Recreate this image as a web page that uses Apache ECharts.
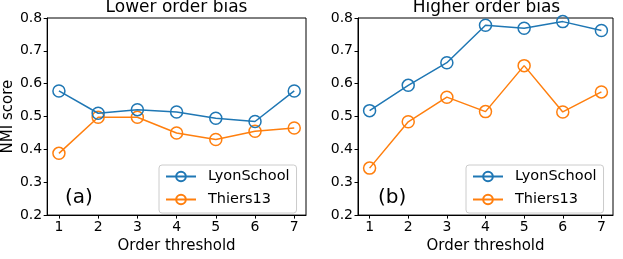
<!DOCTYPE html>
<html>
<head>
<meta charset="utf-8">
<script src="https://cdn.jsdelivr.net/npm/echarts@6/dist/echarts.min.js"></script>
<style>
html,body{margin:0;padding:0;background:#fff;}
#c{width:623px;height:259px;}
</style>
</head>
<body>
<div id="c"></div>
<script>
const thresholds = [1, 2, 3, 4, 5, 6, 7];
const yTicks = [0.2, 0.3, 0.4, 0.5, 0.6, 0.7, 0.8];
const panelTitles = ['Lower order bias', 'Higher order bias'];
const panelTags = ['(a)', '(b)'];
const seriesNames = ['LyonSchool', 'Thiers13'];
const lowerLyon = [0.578, 0.510, 0.521, 0.514, 0.495, 0.485, 0.578];
const lowerThiers = [0.388, 0.498, 0.498, 0.450, 0.430, 0.455, 0.465];
const higherLyon = [0.518, 0.595, 0.664, 0.778, 0.769, 0.789, 0.762];
const higherThiers = [0.343, 0.484, 0.559, 0.515, 0.655, 0.514, 0.575];

const BLUE = '#1f77b4', ORANGE = '#ff7f0e';
const FONT = 'DejaVu Sans';
const grids = [
  {left: 45, top: 18, width: 261, height: 203},
  {left: 358, top: 18, width: 255, height: 203}
];
const panelData = [[lowerLyon, lowerThiers], [higherLyon, higherThiers]];
const colors = [BLUE, ORANGE];

function pairs(vals){ return thresholds.map((t, i) => [t, vals[i]]); }

const option = {
  animation: false,
  backgroundColor: '#fff',
  textStyle: {fontFamily: FONT},
  title: panelTitles.map((t, i) => ({
    text: t,
    left: grids[i].left + grids[i].width / 2 + 1,
    textAlign: 'center',
    top: -1,
    padding: 0,
    textStyle: {fontFamily: FONT, fontSize: 17, fontWeight: 'normal', color: '#000'}
  })),
  grid: grids.map(g => Object.assign({show: true, borderColor: '#000', borderWidth: 1, backgroundColor: 'transparent'}, g)),
  xAxis: grids.map((g, i) => ({
    type: 'value', gridIndex: i, min: 0.7, max: 7.3,
    name: 'Order threshold', nameLocation: 'middle', nameGap: 20,
    nameTextStyle: {fontFamily: FONT, fontSize: 15, color: '#000'},
    axisLine: {show: true, lineStyle: {color: '#000', width: 1}},
    axisTick: {show: true, length: 3.5, lineStyle: {color: '#000'}, customValues: thresholds},
    axisLabel: {fontFamily: FONT, fontSize: 14, color: '#000', margin: 5, customValues: thresholds},
    splitLine: {show: false}
  })),
  yAxis: grids.map((g, i) => ({
    type: 'value', gridIndex: i, min: yTicks[0], max: yTicks[yTicks.length - 1], interval: 0.1,
    name: i === 0 ? 'NMI score' : '', nameLocation: 'middle', nameGap: 18,
    nameTextStyle: {fontFamily: FONT, fontSize: 15, color: '#000'},
    axisLine: {show: true, lineStyle: {color: '#000', width: 1}},
    axisTick: {show: true, length: 3.5, lineStyle: {color: '#000'}},
    axisLabel: {fontFamily: FONT, fontSize: 14, color: '#000', margin: 5, formatter: v => v.toFixed(1)},
    splitLine: {show: false}
  })),
  legend: grids.map((g, i) => ({
    orient: 'vertical',
    left: g.left + g.width - 147,
    top: 165,
    data: seriesNames,
    backgroundColor: '#fff',
    borderColor: '#ccc', borderWidth: 1, borderRadius: 3,
    padding: [3, 7, 5, 6],
    itemWidth: 30, itemHeight: 12, itemGap: 6,
    textStyle: {fontFamily: FONT, fontSize: 14.5, color: '#000', lineHeight: 17, padding: [0, 0, 0, 7]},
    selectedMode: false
  })),
  graphic: panelTags.map((t, i) => ({
    type: 'text',
    left: grids[i].left + 20,
    top: 188,
    style: {text: t, font: '20px "DejaVu Sans"', fill: '#000'}
  })),
  series: []
};

panelData.forEach((pd, gi) => {
  pd.forEach((vals, si) => {
    option.series.push({
      type: 'line', name: seriesNames[si], xAxisIndex: gi, yAxisIndex: gi,
      data: pairs(vals),
      symbol: 'circle', symbolSize: 12,
      lineStyle: {color: colors[si], width: 1.5},
      itemStyle: {color: 'rgba(255,255,255,0)', borderColor: colors[si], borderWidth: 1.5},
      z: 3 - si
    });
  });
});

const chart = echarts.init(document.getElementById('c'), null, {renderer: 'canvas'});
chart.setOption(option);
</script>
</body>
</html>
